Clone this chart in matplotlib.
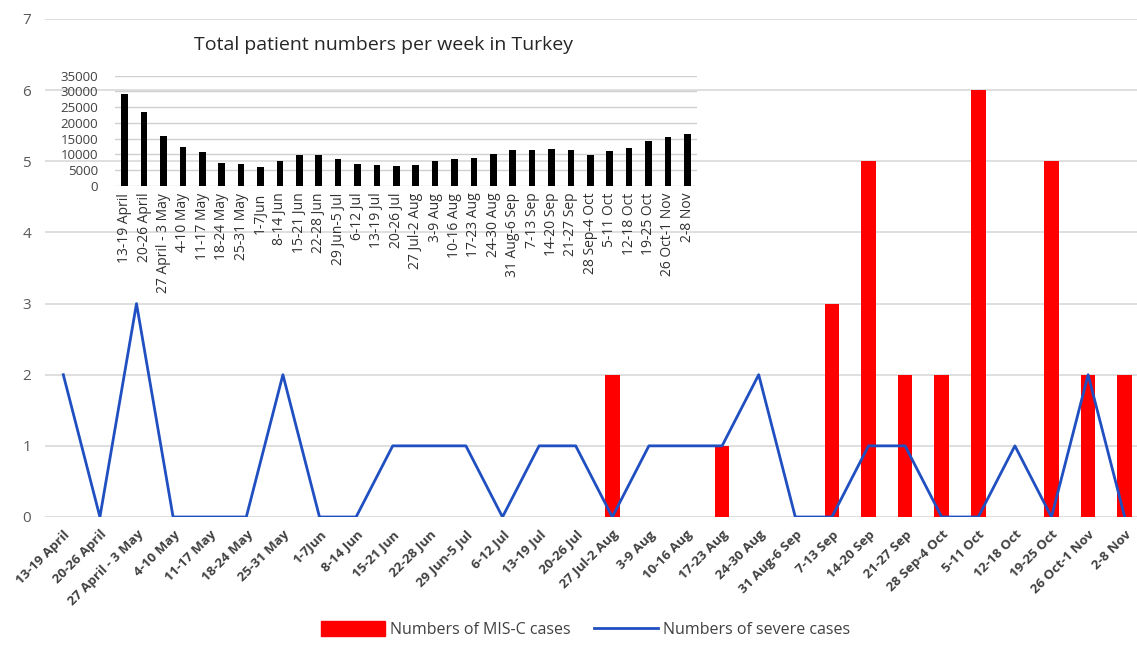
import matplotlib.pyplot as plt
import numpy as np
from matplotlib.lines import Line2D
from matplotlib.patches import Patch

weeks = [
    "13-19 April", "20-26 April", "27 April - 3 May", "4-10 May", "11-17 May",
    "18-24 May", "25-31 May", "1-7Jun", "8-14 Jun", "15-21 Jun", "22-28 Jun",
    "29 Jun-5 Jul", "6-12 Jul", "13-19 Jul", "20-26 Jul", "27 Jul-2 Aug",
    "3-9 Aug", "10-16 Aug", "17-23 Aug", "24-30 Aug", "31 Aug-6 Sep",
    "7-13 Sep", "14-20 Sep", "21-27 Sep", "28 Sep-4 Oct", "5-11 Oct",
    "12-18 Oct", "19-25 Oct", "26 Oct-1 Nov", "2-8 Nov",
]
inset_weeks = [
    "13-19 April", "20-26 April", "27 April - 3 May", "4-10 May", "11-17 May",
    "18-24 May", "25-31 May", "1-7Jun", "8-14 Jun", "15-21 Jun", "22-28 Jun",
    "29 Jun-5 Jul", "6-12 Jul", "13-19 Jul", "20-26 Jul", "27 Jul-2 Aug",
    "3-9 Aug", "10-16 Aug", "17-23 Aug", "24-30 Aug", "31 Aug-6 Sep",
    "7-13 Sep", "14-20 Sep", "21-27 Sep", "28 Sep-4 Oct", "5-11 Oct",
    "12-18 Oct", "19-25 Oct", "26 Oct-1 Nov", "2-8 Nov",
]
misc_cases = [0, 0, 0, 0, 0, 0, 0, 0, 0, 0, 0, 0, 0, 0, 0, 2,
              0, 0, 1, 0, 0, 3, 5, 2, 2, 6, 0, 5, 2, 2]
severe_cases = [2, 0, 3, 0, 0, 0, 2, 0, 0, 1, 1, 1, 0, 1, 1, 0,
                1, 1, 1, 2, 0, 0, 1, 1, 0, 0, 1, 0, 2, 0]
total_patients = [29100, 23500, 15800, 12300, 10600, 7200, 6900, 5950, 8000, 9700,
                  9700, 8400, 6900, 6500, 6200, 6700, 7800, 8400, 8800, 10100,
                  11300, 11300, 11700, 11400, 9900, 10900, 11900, 14100, 15500, 16400]

plt.rcParams["font.family"] = ["Open Sans", "DejaVu Sans"]

fig = plt.figure(figsize=(11.37, 6.49), dpi=100)
ax = fig.add_axes([45 / 1137, 132 / 649, 1098 / 1137, 498 / 649])

x = np.arange(len(weeks))
ax.bar(x, misc_cases, width=0.4, color="#ff0000", zorder=2)
ax.plot(x, severe_cases, color="#1f4fc0", lw=2, zorder=3)

ax.set_xlim(-0.5, len(weeks) - 0.5)
ax.set_ylim(0, 7)
ax.set_yticks(range(8))
ax.grid(axis="y", color="#d9d9d9", lw=1.2, zorder=0)
ax.set_axisbelow(True)
for s in ax.spines.values():
    s.set_visible(False)
ax.tick_params(axis="y", length=0, pad=10, labelsize=11, labelcolor="#595959")
ax.tick_params(axis="x", length=0, pad=8)
ax.set_xticks(x)
ax.set_xticklabels(weeks, rotation=45, ha="right", rotation_mode="anchor",
                   fontsize=9.5, fontweight="bold", color="#404040")

# inset: weekly totals
ins = fig.add_axes([115 / 1137, 1 - 185.7 / 649, 582 / 1137, 110 / 649])
ins.patch.set_alpha(0)
ins.bar(np.arange(len(inset_weeks)), total_patients, width=0.35, color="black", zorder=2)
ins.set_xlim(-0.5, len(inset_weeks) - 0.5)
ins.set_ylim(0, 35000)
ins.set_yticks(range(0, 35001, 5000))
ins.grid(axis="y", color="#d0d0d0", lw=1, zorder=0)
ins.set_axisbelow(True)
for s in ins.spines.values():
    s.set_visible(False)
ins.tick_params(axis="y", length=0, pad=12, labelsize=9.5, labelcolor="#404040")
ins.tick_params(axis="x", length=0, pad=5)
ins.set_xticks(np.arange(len(inset_weeks)))
ins.set_xticklabels(inset_weeks, rotation=90, fontsize=10, color="#303030")
fig.text(383 / 1137, 1 - 45 / 649, "Total patient numbers per week in Turkey",
         ha="center", va="center", fontsize=14, color="#262626")

handles = [Patch(color="#ff0000"), Line2D([], [], color="#1f4fc0", lw=2)]
fig.legend(handles, ["Numbers of MIS-C cases", "Numbers of severe cases"],
           loc="lower center", bbox_to_anchor=(0.515, -0.005), ncol=2, frameon=False,
           fontsize=11.5, handlelength=4, handleheight=1.0, columnspacing=1.5,
           handletextpad=0.3, labelcolor="#404040")

fig.savefig("out.png", dpi=100)
